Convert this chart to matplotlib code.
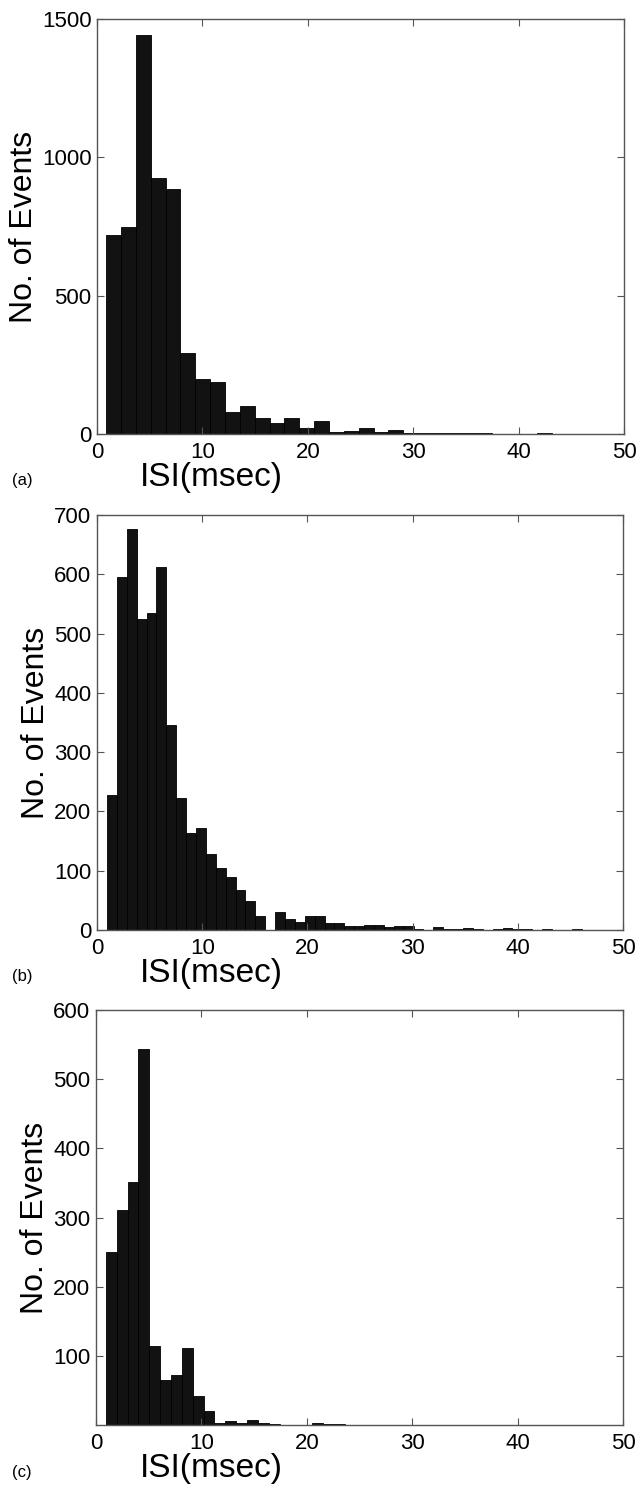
import matplotlib.pyplot as plt
import numpy as np

plt.rcParams['font.family'] = ['Liberation Sans', 'DejaVu Sans']

# Histogram counts
counts_a = [718, 747, 1443, 924, 884, 293, 198, 189, 81, 100, 58, 41, 58, 22, 46,
            7, 12, 22, 6, 14, 5, 4, 5, 2, 2, 2, 1, 1, 0, 2]
counts_b = [227, 595, 676, 524, 535, 612, 345, 223, 164, 172, 129, 104, 89, 67, 49,
            23, 0, 30, 18, 13, 24, 23, 12, 12, 7, 7, 8, 9, 5, 6, 7, 2, 0, 5, 1, 2,
            3, 2, 0, 2, 3, 2, 2, 0, 2, 0, 0, 2]
counts_c = [250, 311, 352, 543, 114, 65, 72, 111, 42, 20, 3, 6, 3, 7, 3, 2, 0, 0,
            0, 3, 2, 1]

# bin start and bin width (msec) for each panel
bins_a = (0.86, 1.41)
bins_b = (0.95, 0.94)
bins_c = (0.94, 1.03)

yticks_a = [0, 500, 1000, 1500]
yticks_b = [0, 100, 200, 300, 400, 500, 600, 700]
yticks_c = [100, 200, 300, 400, 500, 600]
xticks = [0, 10, 20, 30, 40, 50]
panel_labels = ['(a)', '(b)', '(c)']

W, H = 639, 1487
fig = plt.figure(figsize=(W / 100, H / 100), dpi=100)

# axes boxes in pixels: left, top, right, bottom
boxes = [(97, 19, 624, 434), (97, 515, 623, 930), (96, 1010, 623, 1425)]
panels = [(counts_a, bins_a, yticks_a, 1500),
          (counts_b, bins_b, yticks_b, 700),
          (counts_c, bins_c, yticks_c, 600)]

for (l, t, r, b), (counts, (start, width), yt, ymax), lab in zip(boxes, panels, panel_labels):
    ax = fig.add_axes([l / W, 1 - b / H, (r - l) / W, (b - t) / H])
    counts = np.array(counts)
    edges = start + width * np.arange(len(counts))
    nz = counts > 0
    ax.bar(edges[nz], counts[nz], width=width, align='edge',
           color='#121212', edgecolor='#000000', linewidth=0.6)
    ax.set_xlim(0, 50)
    ax.set_ylim(0, ymax)
    ax.set_xticks(xticks)
    ax.set_yticks(yt)
    ax.tick_params(direction='in', length=5, width=0.8, color='#555555',
                   labelsize=16, top=True, right=True)
    ax.tick_params(axis='x', pad=6)
    ax.tick_params(axis='y', pad=4)
    for s in ax.spines.values():
        s.set_color('#555555')
        s.set_linewidth(1.0)
    ax.set_ylabel('No. of Events', fontsize=23, labelpad=2)
    ax.set_xlabel('ISI(msec)', fontsize=24, x=(211 - l) / (r - l), labelpad=-1)
    fig.text(12 / W, 1 - (b + 47) / H, lab, fontsize=12, va='center', ha='left')

fig.savefig('out.png', dpi=100)
